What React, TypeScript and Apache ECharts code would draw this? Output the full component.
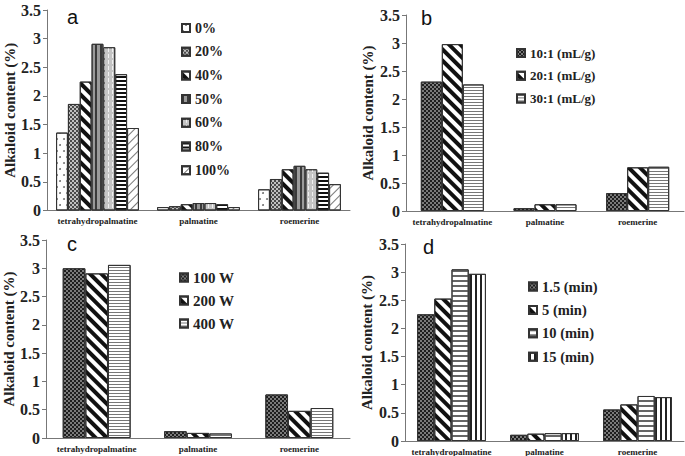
import React, { useEffect, useRef } from "react";
import * as echarts from "echarts";

const categories = ["tetrahydropalmatine", "palmatine", "roemerine"];
const yTicks = { min: 0, max: 3.5, interval: 0.5 };

// Panel a: ethanol concentration
const namesA = ["0%", "20%", "40%", "50%", "60%", "80%", "100%"];
const valuesA = [
  [1.36, 0.06, 0.37],
  [1.86, 0.075, 0.55],
  [2.25, 0.11, 0.72],
  [2.91, 0.13, 0.78],
  [2.85, 0.13, 0.72],
  [2.38, 0.11, 0.66],
  [1.44, 0.06, 0.46],
];

// Panel b: liquid/solid ratio
const namesB = ["10:1 (mL/g)", "20:1 (mL/g)", "30:1 (mL/g)"];
const valuesB = [
  [2.31, 0.05, 0.32],
  [2.98, 0.12, 0.78],
  [2.26, 0.12, 0.79],
];

// Panel c: microwave power
const namesC = ["100 W", "200 W", "400 W"];
const valuesC = [
  [3.0, 0.12, 0.77],
  [2.91, 0.09, 0.48],
  [3.06, 0.08, 0.53],
];

// Panel d: extraction time
const namesD = ["1.5 (min)", "5 (min)", "10 (min)", "15 (min)"];
const valuesD = [
  [2.25, 0.11, 0.56],
  [2.53, 0.13, 0.65],
  [3.05, 0.14, 0.8],
  [2.97, 0.14, 0.78],
];

const panelLetters = ["a", "b", "c", "d"];

// ---- styles ----
const SERIF = "'Liberation Serif', 'DejaVu Serif', serif";
const SANS = "'Liberation Sans', Arial, sans-serif";

const P = {
  dots: { color: "#ffffff", decal: { symbol: "circle", symbolSize: 0.9, color: "#666", dashArrayX: [[1.2, 4.8], [0, 3, 1.2, 1.8]], dashArrayY: [1.2, 3.5], rotation: 0 } },
  lightCheck: { color: "#c0c0c0", decal: { symbol: "rect", symbolSize: 1, color: "#4a4a4a", dashArrayX: [[1.5, 1.5], [0, 1.5, 1.5, 0]], dashArrayY: [1.5, 0], rotation: 0 } },
  darkCheck: { color: "#7a7a7a", decal: { symbol: "rect", symbolSize: 1, color: "#1e1e1e", dashArrayX: [[1.5, 1.5], [0, 1.5, 1.5, 0]], dashArrayY: [1.5, 0], rotation: 0 } },
  back: { color: "#ffffff", decal: { symbol: "rect", symbolSize: 1, color: "#111", dashArrayX: [1, 0], dashArrayY: [3.5, 3.5], rotation: Math.PI / 4 } },
  grayVert: { color: "#9a9a9a", decal: { symbol: "rect", symbolSize: 1, color: "#3a3a3a", dashArrayX: [1.2, 2.2], dashArrayY: [1, 0], rotation: 0 } },
  lightVertDash: { color: "#c4c4c4", decal: { symbol: "rect", symbolSize: 1, color: "#f0f0f0", dashArrayX: [1, 2.5], dashArrayY: [4, 2], rotation: 0 } },
  horiz: { color: "#ffffff", decal: { symbol: "rect", symbolSize: 1, color: "#111", dashArrayX: [1, 0], dashArrayY: [1.7, 1.7], rotation: 0 } },
  fwd: { color: "#ffffff", decal: { symbol: "rect", symbolSize: 1, color: "#777", dashArrayX: [1, 0], dashArrayY: [1, 5], rotation: -Math.PI / 4 } },
  horizGray: { color: "#ffffff", decal: { symbol: "rect", symbolSize: 1, color: "#777", dashArrayX: [1, 0], dashArrayY: [1, 2], rotation: 0 } },
  horizGrayWide: { color: "#ffffff", decal: { symbol: "rect", symbolSize: 1, color: "#666", dashArrayX: [1, 0], dashArrayY: [1.5, 3], rotation: 0 } },
  vert: { color: "#ffffff", decal: { symbol: "rect", symbolSize: 1, color: "#222", dashArrayX: [1.5, 2.5], dashArrayY: [1, 0], rotation: 0 } },
};

const patternsA = [P.dots, P.lightCheck, P.back, P.grayVert, P.lightVertDash, P.horiz, P.fwd];
const patternsB = [P.darkCheck, P.back, P.horizGray];
const patternsC = [P.darkCheck, P.back, P.horizGray];
const patternsD = [P.darkCheck, P.back, P.horizGrayWide, P.vert];

const grids = [
  { left: 47, top: 10, width: 303, height: 200.5 },
  { left: 406, top: 15, width: 278, height: 196 },
  { left: 46, top: 240, width: 304, height: 198 },
  { left: 405, top: 244, width: 279, height: 198 },
];
const catGaps = ["18%", "32%", "33%", "26%"];
const nameGaps = [28, 31, 28, 31];
const legendFont = [14, 13, 15, 14.5];
const legendPos = [
  { left: 181, top: 21, gap: 9.7 },
  { left: 516, top: 46, gap: 8.7 },
  { left: 179, top: 270, gap: 8 },
  { left: 528, top: 279, gap: 8.4 },
];
const letterPos = [
  { left: 67, top: 7 },
  { left: 421, top: 8 },
  { left: 67, top: 234 },
  { left: 423, top: 237 },
];

export default function App() {
  const ref = useRef<HTMLDivElement>(null);
  useEffect(() => {
    if (!ref.current) return;
    const chart = echarts.init(ref.current, undefined, { renderer: "svg" });
    const panels = [
      { names: namesA, values: valuesA, pats: patternsA },
      { names: namesB, values: valuesB, pats: patternsB },
      { names: namesC, values: valuesC, pats: patternsC },
      { names: namesD, values: valuesD, pats: patternsD },
    ];
    const series: any[] = [];
    panels.forEach((p, pi) => {
      p.names.forEach((n, si) => {
        series.push({
          type: "bar",
          name: n,
          xAxisIndex: pi,
          yAxisIndex: pi,
          data: p.values[si],
          barGap: "0%",
          barCategoryGap: catGaps[pi],
          itemStyle: {
            color: p.pats[si].color,
            decal: p.pats[si].decal,
            borderColor: "#333",
            borderWidth: 1,
          },
          emphasis: { disabled: true },
        });
      });
    });
    const option: any = {
      animation: false,
      backgroundColor: "#ffffff",
      title: panelLetters.map((t, i) => ({
        text: t,
        left: letterPos[i].left,
        top: letterPos[i].top,
        padding: 0,
        textStyle: { fontFamily: SANS, fontSize: 20, fontWeight: "normal", color: "#111" },
      })),
      grid: grids.map((g) => ({ ...g, containLabel: false })),
      xAxis: grids.map((_, i) => ({
        type: "category",
        gridIndex: i,
        data: categories,
        axisLine: { lineStyle: { color: "#777", width: 1 } },
        axisTick: { show: false },
        axisLabel: {
          interval: 0,
          margin: 6,
          fontFamily: SERIF,
          fontWeight: "bold",
          fontSize: 9,
          color: "#222",
        },
      })),
      yAxis: grids.map((_, i) => ({
        type: "value",
        gridIndex: i,
        min: yTicks.min,
        max: yTicks.max,
        interval: yTicks.interval,
        name: "Alkaloid content (%)",
        nameLocation: "middle",
        nameRotate: 90,
        nameGap: nameGaps[i],
        nameTextStyle: { fontFamily: SERIF, fontWeight: "bold", fontSize: 15, color: "#222" },
        splitLine: { show: false },
        axisLine: { show: true, lineStyle: { color: "#777", width: 1 } },
        axisTick: { show: true, length: 4, lineStyle: { color: "#777" } },
        axisLabel: { margin: 6, fontFamily: SERIF, fontWeight: "bold", fontSize: 16, color: "#222" },
      })),
      legend: panels.map((p, i) => ({
        data: p.names,
        orient: "vertical",
        left: legendPos[i].left,
        top: legendPos[i].top,
        itemGap: legendPos[i].gap,
        itemWidth: 8,
        itemHeight: 8,
        padding: 0,
        icon: "rect",
        selectedMode: false,
        textStyle: { fontFamily: SERIF, fontWeight: "bold", fontSize: legendFont[i], color: "#222", lineHeight: 14 },
      })),
      series,
    };
    chart.setOption(option);
    return () => chart.dispose();
  }, []);
  return (
    <div
      ref={ref}
      style={{ position: "fixed", left: 0, top: 0, width: 685, height: 456, background: "#fff" }}
    />
  );
}
